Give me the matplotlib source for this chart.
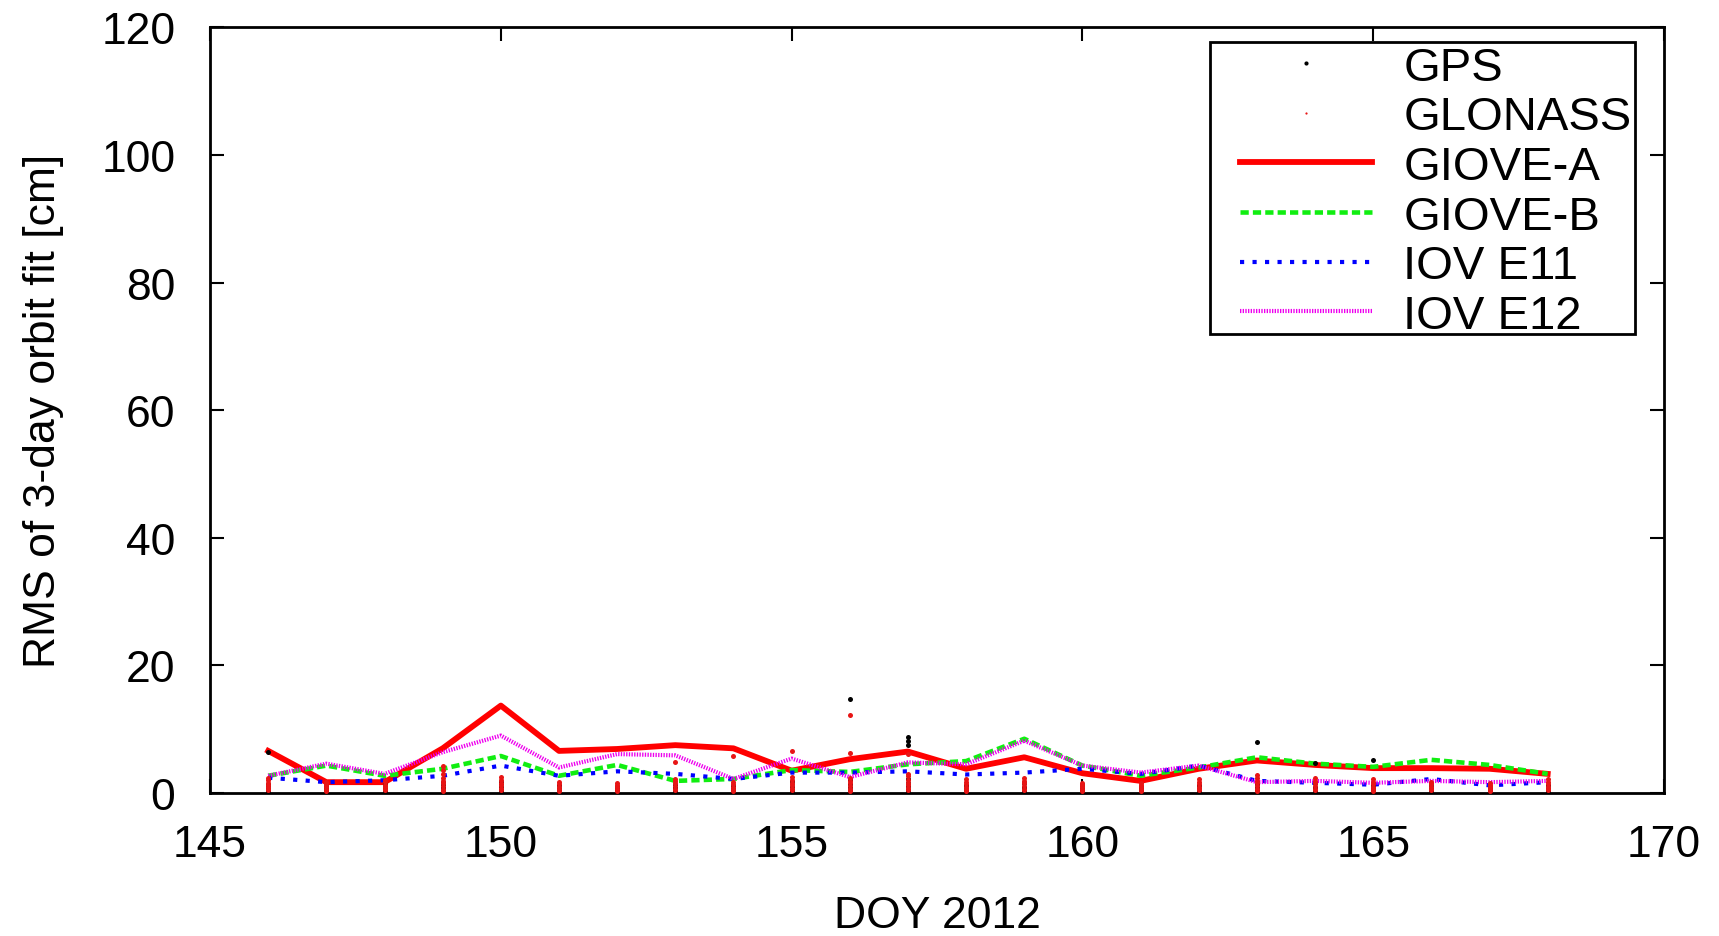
import numpy as np
import matplotlib
matplotlib.use("Agg")
import matplotlib.pyplot as plt
from matplotlib.patches import Rectangle
from matplotlib.lines import Line2D

plt.rcParams['font.family'] = ['Liberation Sans', 'DejaVu Sans']

# jours de l'année 2012
doy = list(range(146, 169))

# RMS [cm] des satellites Galileo (une valeur par jour)
giove_a = [6.6, 1.7, 1.7, 7.0, 13.7, 6.6, 6.9, 7.5, 7.0, 3.5, 5.3, 6.5,
           3.8, 5.6, 3.1, 1.9, 3.8, 5.1, 4.4, 3.9, 3.9, 3.8, 3.0]
giove_b = [2.7, 4.3, 2.7, 3.8, 5.8, 2.7, 4.4, 1.9, 2.2, 3.6, 3.3, 4.5,
           5.0, 8.5, 4.3, 2.7, 4.0, 5.6, 4.6, 4.1, 5.2, 4.4, 3.0]
iov_e11 = [2.4, 1.7, 2.0, 2.7, 4.3, 2.7, 3.4, 3.0, 2.2, 3.2, 3.2, 3.4,
           2.9, 3.2, 3.8, 3.0, 4.3, 1.9, 1.6, 1.3, 2.2, 1.2, 1.7]
iov_e12 = [2.7, 4.6, 3.0, 6.4, 9.0, 4.0, 6.1, 5.9, 2.2, 5.4, 2.5, 4.8,
           4.5, 8.2, 4.3, 3.2, 4.3, 1.7, 1.9, 1.6, 1.9, 1.7, 1.9]

# RMS [cm] des satellites GPS et GLONASS (plusieurs par jour)
gps_rms = [
    [0.2, 0.5, 0.8, 1.1, 1.4, 6.5],
    [0.2, 0.4, 0.7, 1.0, 1.3],
    [0.3, 0.5, 0.8, 1.2, 1.5],
    [0.2, 0.6, 0.9, 1.3, 1.7],
    [0.3, 0.6, 1.0, 1.4, 1.8],
    [0.2, 0.5, 0.8, 1.2],
    [0.2, 0.4, 0.7, 1.0],
    [0.3, 0.6, 0.9, 1.3],
    [0.2, 0.5, 0.8, 1.1],
    [0.3, 0.6, 1.0, 1.5, 1.9],
    [0.2, 0.5, 0.9, 1.4, 2.0, 14.8],
    [0.3, 0.7, 1.1, 1.6, 2.2, 7.5, 8.2, 8.7],
    [0.2, 0.5, 0.9, 1.3],
    [0.3, 0.6, 1.0, 1.5],
    [0.2, 0.5, 0.8, 1.2],
    [0.2, 0.4, 0.7, 1.0],
    [0.3, 0.6, 0.9, 1.3],
    [0.2, 0.5, 0.9, 1.4, 8.0],
    [0.3, 0.6, 1.0, 1.5, 4.7],
    [0.2, 0.5, 0.8, 1.3, 5.2],
    [0.3, 0.6, 1.0, 1.4],
    [0.2, 0.4, 0.7, 1.0],
    [0.2, 0.5, 0.8, 1.2],
]
glonass_rms = [
    [0.4, 0.7, 1.0, 1.3, 1.6, 2.0, 2.4],
    [0.3, 0.6, 0.9, 1.2, 1.5, 1.8],
    [0.4, 0.7, 1.0, 1.3, 1.7, 2.1],
    [0.3, 0.7, 1.1, 1.5, 1.9, 2.4, 3.0, 3.6, 4.3],
    [0.4, 0.8, 1.2, 1.6, 2.0, 2.5],
    [0.3, 0.6, 1.0, 1.4, 1.8],
    [0.3, 0.6, 0.9, 1.2, 1.5],
    [0.4, 0.7, 1.1, 1.5, 1.9, 2.2, 4.9],
    [0.3, 0.6, 1.0, 1.4, 1.8, 5.8],
    [0.4, 0.8, 1.2, 1.6, 2.0, 2.5, 6.6],
    [0.3, 0.7, 1.1, 1.5, 1.9, 2.4, 6.3, 12.3],
    [0.4, 0.8, 1.2, 1.6, 2.0, 2.6, 3.0, 6.1],
    [0.3, 0.6, 1.0, 1.4, 1.8, 2.2],
    [0.4, 0.7, 1.1, 1.5, 1.9, 2.3],
    [0.3, 0.6, 0.9, 1.2, 1.6],
    [0.3, 0.6, 0.9, 1.2, 1.5],
    [0.4, 0.7, 1.0, 1.4, 1.8, 2.2],
    [0.3, 0.7, 1.1, 1.5, 1.9, 2.4, 2.8],
    [0.4, 0.7, 1.1, 1.5, 1.9, 2.3],
    [0.3, 0.6, 1.0, 1.4, 1.8, 2.2],
    [0.4, 0.7, 1.0, 1.4, 1.8],
    [0.3, 0.6, 0.9, 1.2, 1.5],
    [0.4, 0.7, 1.0, 1.4, 1.8, 2.2],
]

gps_x = [d for d, vals in zip(doy, gps_rms) for _ in vals]
gps_y = [v for vals in gps_rms for v in vals]
glo_x = [d for d, vals in zip(doy, glonass_rms) for _ in vals]
glo_y = [v for vals in glonass_rms for v in vals]

fig = plt.figure(figsize=(17.19, 9.37), dpi=100)
ax = fig.add_axes([0.1222, 0.1526, 0.8458, 0.8172])

ax.plot(gps_x, gps_y, 'o', color='black', ms=3.6, mew=0, zorder=5)
ax.plot(glo_x, glo_y, 'o', color='#e81515', ms=3.6, mew=0, zorder=6)
l_a, = ax.plot(doy, giove_a, '-', color='#ff0000', lw=4.2, label='GIOVE-A')
l_b, = ax.plot(doy, giove_b, color='#11ee11', lw=3.3, dashes=(1.8, 0.9), label='GIOVE-B')
l_e11, = ax.plot(doy, iov_e11, color='#0000ff', lw=3.0, dashes=(1.0, 2.0), label='IOV E11')
l_e12, = ax.plot(doy, iov_e12, color='#ee00ee', lw=3.0, dashes=(0.32, 0.32), label='IOV E12')

# symboles de légende pour GPS / GLONASS (plus petits que dans le graphe)
h_gps = Line2D([], [], ls='none', marker='o', color='black', ms=3.0, mew=0)
h_glo = Line2D([], [], ls='none', marker='o', color='#e81515', ms=1.6, mew=0)

ax.set_xlim(145, 170)
ax.set_ylim(0, 120)
ax.set_xticks(range(145, 171, 5))
ax.set_yticks(range(0, 121, 20))
ax.tick_params(direction='in', length=10, width=1.5, top=True, right=True, labelsize=32)
ax.tick_params(axis='x', pad=22)
ax.tick_params(axis='y', pad=25)
for s in ax.spines.values():
    s.set_linewidth(2)

ax.set_xlabel("DOY 2012", fontsize=32, labelpad=22)
ax.set_ylabel("RMS of 3-day orbit fit [cm]", fontsize=32, labelpad=27)

# cadre de légende
ax.add_patch(Rectangle((0.6877, 0.5995), 0.2923, 0.3809, transform=ax.transAxes,
                       fill=True, facecolor='white', edgecolor='black', lw=2, zorder=9))
leg = ax.legend([h_gps, h_glo, l_a, l_b, l_e11, l_e12],
                ['GPS', 'GLONASS', 'GIOVE-A', 'GIOVE-B', 'IOV E11', 'IOV E12'],
                loc='upper left', bbox_to_anchor=(0.7083, 0.976), borderaxespad=0,
                fontsize=34, frameon=False, handlelength=2.8, handletextpad=0.66,
                labelspacing=0.12, borderpad=0)
leg.set_zorder(10)

fig.savefig("out.png", dpi=100)
